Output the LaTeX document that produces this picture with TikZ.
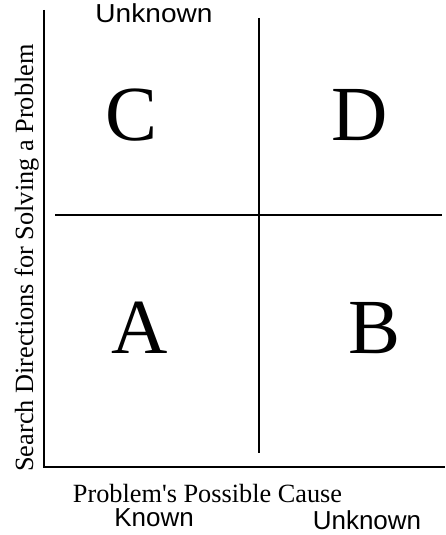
\documentclass[tikz,border=0pt]{standalone}
\usepackage{fontspec}
\setmainfont{Liberation Serif}
\newfontfamily\serifplain{Liberation Serif}
\newfontfamily\labelsans{Liberation Sans}
\begin{document}
\begin{tikzpicture}[x=1pt,y=1pt,
  axisline/.style={line width=1.3pt,black},
  divline/.style={line width=1.1pt,black},
  bigletter/.style={anchor=base,inner sep=0pt,font=\fontsize{78}{78}\selectfont},
  serifcap/.style={anchor=base,inner sep=0pt,font=\serifplain\fontsize{26.3}{26.3}\selectfont},
  sanscap/.style={anchor=base,inner sep=0pt,font=\labelsans\fontsize{26}{26}\selectfont}]
\useasboundingbox (0,0) rectangle (445,-535);
% axes
\coordinate (ytop) at (44,-10);
\coordinate (origin) at (44,-467);
\coordinate (xend) at (445,-467);
\draw[axisline] (ytop) -- (origin) -- (xend);
% dividers
\coordinate (vtop) at (259,-18);
\coordinate (vbot) at (259,-453);
\coordinate (hleft) at (55,-215);
\coordinate (hright) at (442,-215);
\draw[divline] (vtop) -- (vbot);
\draw[divline] (hleft) -- (hright);
% quadrant letters
\node[bigletter] (C) at (132,-140) {C};
\node[bigletter] (D) at (360,-140) {D};
\node[bigletter] (A) at (140,-353) {A};
\node[bigletter] (B) at (375,-353) {B};
% labels
\node[sanscap,xscale=1.08,transform shape] (topunknown) at (154,-23) {Unknown};
\node[serifcap] (xlabel) at (207.5,-502) {Problem's Possible Cause};
\node[sanscap] (known) at (154,-526) {Known};
\node[sanscap] (unknown) at (367,-529) {Unknown};
\node[serifcap,rotate=90] (ylabel) at (33,-258) {Search Directions for Solving a Problem};
\end{tikzpicture}
\end{document}
